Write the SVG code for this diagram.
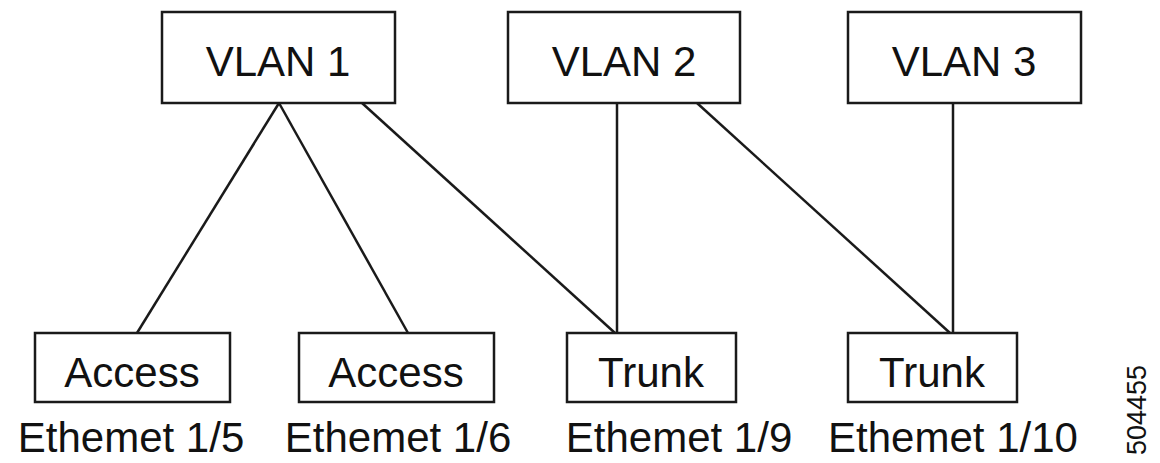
<svg xmlns="http://www.w3.org/2000/svg" width="1160" height="463" viewBox="0 0 1160 463">
<style>
.box{fill:#fff;stroke:#1a1a1a;stroke-width:2.5}
.t{font-family:"Liberation Sans",Arial,sans-serif;font-size:42px;fill:#111;text-anchor:middle}
.l{font-family:"Liberation Sans",Arial,sans-serif;font-size:42px;fill:#111;text-anchor:middle}
.c{stroke:#1a1a1a;stroke-width:2.5;fill:none}
</style>
<rect width="1160" height="463" fill="#fff"/>
<g id="connectors">
<line class="c" x1="279" y1="103" x2="137" y2="333"/>
<line class="c" x1="279" y1="103" x2="408" y2="333"/>
<line class="c" x1="362" y1="103" x2="615" y2="333"/>
<line class="c" x1="617" y1="103" x2="617" y2="333"/>
<line class="c" x1="697" y1="103" x2="950" y2="333"/>
<line class="c" x1="953" y1="103" x2="953" y2="333"/>
</g>
<g id="vlan1"><rect class="box" x="162" y="12" width="233" height="91"/><text class="t" x="278" y="76">VLAN 1</text></g>
<g id="vlan2"><rect class="box" x="508" y="12" width="232" height="91"/><text class="t" x="624" y="76">VLAN 2</text></g>
<g id="vlan3"><rect class="box" x="848" y="12" width="233" height="91"/><text class="t" x="964" y="76">VLAN 3</text></g>
<g id="eth15"><rect class="box" x="35" y="333" width="195" height="69"/><text class="t" x="132" y="387">Access</text><text class="l" x="131" y="452">Ethemet 1/5</text></g>
<g id="eth16"><rect class="box" x="299" y="333" width="195" height="69"/><text class="t" x="396" y="387">Access</text><text class="l" x="398" y="452">Ethemet 1/6</text></g>
<g id="eth19"><rect class="box" x="567" y="333" width="169" height="69"/><text class="t" x="651" y="387">Trunk</text><text class="l" x="679" y="452">Ethemet 1/9</text></g>
<g id="eth110"><rect class="box" x="848" y="333" width="169" height="69"/><text class="t" x="932" y="387">Trunk</text><text class="l" x="953" y="452">Ethemet 1/10</text></g>
<text font-family="'Liberation Sans',Arial,sans-serif" font-size="27" fill="#111" text-anchor="middle" transform="translate(1146,410) rotate(-90)">504455</text>
</svg>
